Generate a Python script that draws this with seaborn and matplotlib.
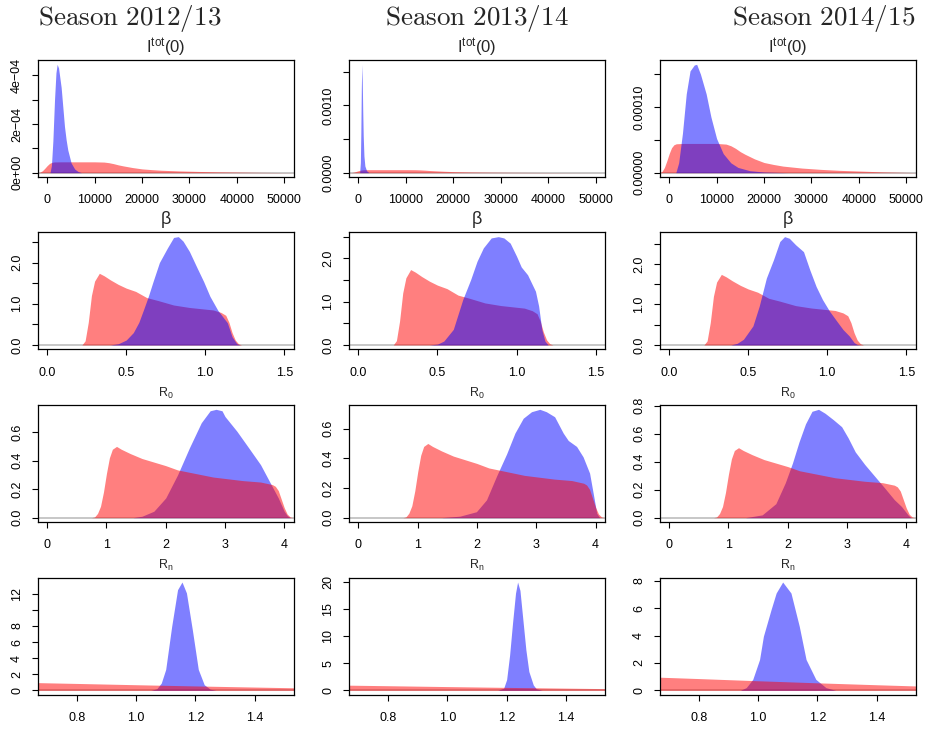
import matplotlib
matplotlib.use("Agg")
import matplotlib.pyplot as plt
import seaborn as sns

seasons = ["Season 2012/13", "Season 2013/14", "Season 2014/15"]

# ---- I_tot(0): prior (shared) and posteriors per season ----
itot_prior_x = [-2000, -1500, -1000, -500, 0, 500, 1000, 1500, 3000, 10000, 12000, 13000,
                14000, 15000, 16000, 18000, 20000, 22000, 24000, 28000, 32000, 36000,
                40000, 45000, 50000, 53000]
itot_prior_y = [0, 0.2e-5, 0.8e-5, 1.8e-5, 2.9e-5, 3.8e-5, 4.25e-5, 4.4e-5, 4.45e-5, 4.45e-5,
                4.35e-5, 4.1e-5, 3.7e-5, 3.2e-5, 2.8e-5, 2.1e-5, 1.55e-5, 1.25e-5, 1.0e-5,
                0.7e-5, 0.5e-5, 0.35e-5, 0.25e-5, 0.12e-5, 0.04e-5, 0]
itot_post_1213_x = [600, 900, 1200, 1550, 1850, 2100, 2400, 2950, 3300, 3650, 4000, 4350,
                    5050, 5800, 6500, 7200]
itot_post_1213_y = [0, 0.3e-4, 1.3e-4, 3.0e-4, 4.1e-4, 4.45e-4, 4.3e-4, 3.5e-4, 2.7e-4, 1.9e-4,
                    1.35e-4, 0.93e-4, 0.4e-4, 0.15e-4, 0.05e-4, 0]
itot_post_1314_x = [250, 400, 500, 600, 700, 800, 900, 1000, 1150, 1350, 1700, 2200]
itot_post_1314_y = [0, 0.15e-3, 0.6e-3, 1.25e-3, 1.61e-3, 1.35e-3, 0.9e-3, 0.55e-3, 0.25e-3,
                    0.1e-3, 0.03e-3, 0]
itot_post_1415_x = [1400, 2000, 2800, 3600, 4400, 5300, 5800, 6600, 7800, 8800, 10000, 11400,
                    13000, 14500, 17000, 20000, 25000]
itot_post_1415_y = [0, 0.15e-4, 0.6e-4, 1.2e-4, 1.55e-4, 1.64e-4, 1.65e-4, 1.5e-4, 1.2e-4,
                    0.85e-4, 0.52e-4, 0.29e-4, 0.15e-4, 0.08e-4, 0.03e-4, 0.01e-4, 0]

# ---- beta ----
beta_prior_x = [0.20, 0.22, 0.24, 0.26, 0.28, 0.30, 0.33, 0.36, 0.40, 0.45, 0.50, 0.56, 0.63,
                0.70, 0.80, 0.90, 1.00, 1.05, 1.10, 1.13, 1.15, 1.17, 1.19, 1.21, 1.23]
beta_prior_y = [0, 0, 0.1, 0.55, 1.2, 1.55, 1.74, 1.68, 1.58, 1.47, 1.38, 1.30, 1.15, 1.08,
                0.97, 0.91, 0.87, 0.85, 0.79, 0.72, 0.55, 0.30, 0.12, 0.03, 0]
beta_post_1213_x = [0.40, 0.45, 0.50, 0.545, 0.58, 0.61, 0.64, 0.67, 0.71, 0.76, 0.80, 0.83,
                    0.86, 0.90, 0.95, 0.99, 1.03, 1.08, 1.14, 1.17, 1.20, 1.22]
beta_post_1213_y = [0, 0.03, 0.12, 0.30, 0.55, 0.86, 1.18, 1.54, 2.0, 2.35, 2.61, 2.63, 2.52,
                    2.27, 1.86, 1.54, 1.18, 0.84, 0.54, 0.20, 0.03, 0]
beta_post_1314_x = [0.45, 0.50, 0.54, 0.60, 0.66, 0.71, 0.75, 0.79, 0.84, 0.885, 0.92, 0.96,
                    1.0, 1.03, 1.07, 1.12, 1.14, 1.16, 1.18, 1.20]
beta_post_1314_y = [0, 0.02, 0.09, 0.36, 1.05, 1.51, 1.93, 2.24, 2.47, 2.50, 2.47, 2.35, 2.05,
                    1.80, 1.62, 1.24, 0.90, 0.36, 0.09, 0]
beta_post_1415_x = [0.39, 0.43, 0.47, 0.53, 0.57, 0.615, 0.66, 0.70, 0.73, 0.76, 0.80, 0.85,
                    0.89, 0.93, 0.97, 1.015, 1.06, 1.10, 1.14, 1.17, 1.19, 1.21]
beta_post_1415_y = [0, 0.04, 0.14, 0.47, 0.96, 1.65, 2.10, 2.55, 2.67, 2.63, 2.47, 2.30, 1.85,
                    1.44, 1.12, 0.83, 0.59, 0.38, 0.22, 0.06, 0.01, 0]

# ---- R0 ----
r0_prior_x = [0.75, 0.80, 0.85, 0.90, 0.95, 1.0, 1.05, 1.10, 1.17, 1.25, 1.4, 1.6, 1.8, 2.0,
              2.2, 2.5, 2.8, 3.0, 3.3, 3.6, 3.8, 3.85, 3.9, 3.95, 4.0, 4.05, 4.1, 4.15]
r0_prior_y = [0, 0.005, 0.03, 0.08, 0.18, 0.31, 0.42, 0.48, 0.50, 0.48, 0.45, 0.415, 0.39,
              0.365, 0.335, 0.31, 0.285, 0.275, 0.26, 0.25, 0.232, 0.22, 0.19, 0.13, 0.07,
              0.025, 0.005, 0]
r0_post_1213_x = [1.45, 1.6, 1.8, 2.0, 2.2, 2.4, 2.6, 2.75, 2.85, 2.95, 3.0, 3.2, 3.4, 3.6,
                  3.75, 3.9, 4.0, 4.05, 4.1]
r0_post_1213_y = [0, 0.01, 0.045, 0.138, 0.30, 0.49, 0.666, 0.75, 0.76, 0.75, 0.71, 0.607,
                  0.49, 0.372, 0.255, 0.138, 0.045, 0.015, 0]
r0_post_1314_x = [1.40, 1.71, 1.99, 2.16, 2.33, 2.5, 2.64, 2.78, 2.92, 3.06, 3.17, 3.31, 3.455,
                  3.54, 3.68, 3.79, 3.9, 3.96, 4.02, 4.07]
r0_post_1314_y = [0, 0.01, 0.04, 0.12, 0.28, 0.43, 0.57, 0.67, 0.714, 0.73, 0.714, 0.68, 0.57,
                  0.52, 0.48, 0.41, 0.30, 0.166, 0.03, 0]
r0_post_1415_x = [1.29, 1.57, 1.80, 1.96, 2.08, 2.19, 2.30, 2.41, 2.52, 2.63, 2.77, 2.91, 3.02,
                  3.14, 3.30, 3.47, 3.64, 3.80, 3.92, 4.03, 4.08]
r0_post_1415_y = [0, 0.02, 0.10, 0.25, 0.39, 0.54, 0.67, 0.76, 0.774, 0.746, 0.70, 0.65, 0.57,
                  0.47, 0.38, 0.295, 0.21, 0.128, 0.08, 0.02, 0]

# ---- Rn ----
rn_prior_x = [0.60, 0.668, 0.8, 1.0, 1.2, 1.4, 1.535, 1.6]
rn_prior_y = [1.0, 0.96, 0.86, 0.70, 0.55, 0.41, 0.32, 0.28]
rn_post_1213_x = [1.05, 1.07, 1.085, 1.10, 1.12, 1.14, 1.155, 1.17, 1.19, 1.21, 1.23, 1.25, 1.27]
rn_post_1213_y = [0, 0.2, 0.9, 2.6, 7.9, 12.5, 13.45, 12.1, 7.5, 2.6, 0.7, 0.15, 0]
rn_post_1314_x = [1.17, 1.19, 1.20, 1.21, 1.22, 1.23, 1.237, 1.245, 1.255, 1.265, 1.275, 1.29,
                  1.30, 1.32]
rn_post_1314_y = [0, 0.4, 2.0, 6.5, 12.5, 18.0, 20.05, 18.5, 13.0, 7.5, 3.5, 1.0, 0.3, 0]
rn_post_1415_x = [0.94, 0.96, 0.982, 1.005, 1.018, 1.044, 1.061, 1.083, 1.111, 1.139, 1.162,
                  1.195, 1.229, 1.262]
rn_post_1415_y = [0, 0.2, 0.8, 2.25, 3.95, 5.9, 7.1, 7.9, 7.1, 4.68, 2.25, 0.8, 0.2, 0]

rows = [
    dict(title=r"$\mathregular{I^{tot}(0)}$", tsize=12, tpad=5,
         xlim=(-2000, 52000), xticks=[0, 10000, 20000, 30000, 40000, 50000], xfmt="{:g}",
         prior=(itot_prior_x, itot_prior_y),
         posts=[(itot_post_1213_x, itot_post_1213_y), (itot_post_1314_x, itot_post_1314_y),
                (itot_post_1415_x, itot_post_1415_y)],
         yticks=[[0, 1e-4, 2e-4, 3e-4, 4e-4], [0, 5e-4, 1e-3, 1.5e-3], [0, 5e-5, 1e-4, 1.5e-4]],
         ylabels=[["0e+00", "", "2e\u221204", "", "4e\u221204"],
                  ["0.0000", "", "0.0010", ""], ["0.00000", "", "0.00010", ""]],
         red_top=False),
    dict(title="\u03b2", tsize=13, tpad=6,
         xlim=(-0.06, 1.56), xticks=[0.0, 0.5, 1.0, 1.5], xfmt="{:.1f}",
         prior=(beta_prior_x, beta_prior_y),
         posts=[(beta_post_1213_x, beta_post_1213_y), (beta_post_1314_x, beta_post_1314_y),
                (beta_post_1415_x, beta_post_1415_y)],
         yticks=[[0, 0.5, 1.0, 1.5, 2.0, 2.5]] * 3,
         ylabels=[["0.0", "", "1.0", "", "2.0", ""]] * 3,
         red_top=False),
    dict(title=r"$\mathregular{R_0}$", tsize=9, tpad=6,
         xlim=(-0.16, 4.16), xticks=[0, 1, 2, 3, 4], xfmt="{:g}",
         prior=(r0_prior_x, r0_prior_y),
         posts=[(r0_post_1213_x, r0_post_1213_y), (r0_post_1314_x, r0_post_1314_y),
                (r0_post_1415_x, r0_post_1415_y)],
         yticks=[[0, 0.2, 0.4, 0.6], [0, 0.2, 0.4, 0.6], [0, 0.2, 0.4, 0.6, 0.8]],
         ylabels=[["0.0", "0.2", "0.4", "0.6"], ["0.0", "0.2", "0.4", "0.6"],
                  ["0.0", "0.2", "0.4", "0.6", "0.8"]],
         red_top=True),
    dict(title=r"$\mathregular{R_n}$", tsize=9, tpad=6,
         xlim=(0.668, 1.532), xticks=[0.8, 1.0, 1.2, 1.4], xfmt="{:.1f}",
         prior=(rn_prior_x, rn_prior_y),
         posts=[(rn_post_1213_x, rn_post_1213_y), (rn_post_1314_x, rn_post_1314_y),
                (rn_post_1415_x, rn_post_1415_y)],
         yticks=[[0, 2, 4, 6, 8, 10, 12], [0, 5, 10, 15, 20], [0, 2, 4, 6, 8]],
         ylabels=[["0", "2", "4", "6", "8", "", "12"], ["0", "5", "10", "15", "20"],
                  ["0", "2", "4", "6", "8"]],
         red_top=True),
]

sns.set_theme(style="ticks")
plt.rcParams['font.family'] = ['Liberation Sans', 'DejaVu Sans']
plt.rcParams['axes.unicode_minus'] = True

W, H = 925, 729
fig = plt.figure(figsize=(W / 100, H / 100), dpi=100)

col_left = [37.7, 349.0, 659.7]
row_top = [60.0, 232.3, 405.0, 577.7]
aw, ah = 256.0, 117.0

RED = (1, 0, 0, 0.5)
BLUE = (0, 0, 1, 0.5)

for r, spec in enumerate(rows):
    for c in range(3):
        ax = fig.add_axes([col_left[c] / W, 1 - (row_top[r] + ah) / H, aw / W, ah / H])
        px, py = spec["prior"]
        qx, qy = spec["posts"][c]
        peak = max(max(qy), max(py))
        ax.axhline(0, color="#bebebe", lw=1.2, zorder=0.5)
        if spec["red_top"]:
            ax.fill_between(qx, qy, 0, color=BLUE, lw=0, zorder=1)
            ax.fill_between(px, py, 0, color=RED, lw=0, zorder=2)
        else:
            ax.fill_between(px, py, 0, color=RED, lw=0, zorder=1)
            ax.fill_between(qx, qy, 0, color=BLUE, lw=0, zorder=2)
        ax.set_xlim(*spec["xlim"])
        ax.set_ylim(-0.04 * peak, 1.04 * peak)
        ax.set_xticks(spec["xticks"])
        ax.set_xticklabels([spec["xfmt"].format(t) for t in spec["xticks"]])
        ax.set_yticks(spec["yticks"][c])
        ax.set_yticklabels(spec["ylabels"][c])
        ax.tick_params(axis="both", direction="out", length=4.5, width=0.8, color="black",
                       labelsize=9, labelcolor="black")
        ax.tick_params(axis="x", pad=8)
        ax.tick_params(axis="y", pad=6, labelrotation=90)
        for lab in ax.get_yticklabels():
            lab.set_va("center")
        for s in ax.spines.values():
            s.set_color("black")
            s.set_linewidth(0.9)
        ax.set_facecolor("white")
        ax.grid(False)
        ax.set_title(spec["title"], fontsize=spec["tsize"], pad=spec["tpad"])

# season headers
fig.text(37.7 / W, 1 - 25 / H, r"$\mathrm{Season\ 2012/13}$", math_fontfamily="cm",
         fontsize=19.5, ha="left", va="baseline")
fig.text((349.0 + aw / 2) / W, 1 - 25 / H, r"$\mathrm{Season\ 2013/14}$", math_fontfamily="cm",
         fontsize=19.5, ha="center", va="baseline")
fig.text((659.7 + aw) / W, 1 - 25 / H, r"$\mathrm{Season\ 2014/15}$", math_fontfamily="cm",
         fontsize=19.5, ha="right", va="baseline")

fig.savefig("out.png", dpi=100, facecolor="white")
